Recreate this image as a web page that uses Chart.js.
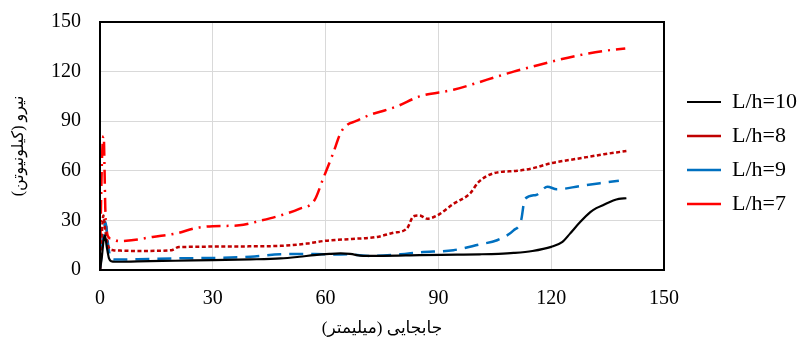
<!DOCTYPE html>
<html>
<head>
<meta charset="utf-8">
<script src="https://cdn.jsdelivr.net/npm/chart.js@4.4.1/dist/chart.umd.min.js"></script>
<style>
  html, body { margin: 0; padding: 0; background: #fff; }
  #wrap { width: 800px; height: 343px; }
</style>
</head>
<body>
<div id="wrap"><canvas id="chart"></canvas></div>
<script>
// displacement (mm) / force (kN) for each slenderness ratio
const seriesNames = ['L/h=10', 'L/h=8', 'L/h=9', 'L/h=7'];

const x10 = [0, 0.5, 0.9, 1.3, 1.8, 2.4, 3, 4, 10, 20, 30, 40, 48, 53, 57, 61, 64, 66.5, 70, 75, 85, 95, 101, 106, 110, 115, 120, 123, 125, 127.7, 130.4, 132, 134, 136.5, 138, 140];
const y10 = [0, 8, 17, 21, 14, 7, 5.3, 5, 5.2, 5.6, 6, 6.4, 7, 8, 9, 9.7, 10, 9.7, 8.6, 8.6, 9, 9.3, 9.5, 9.8, 10.3, 11.5, 14, 17, 22, 29, 35, 37.4, 39.5, 42, 43, 43.4];

const x8 = [0, 0.4, 0.9, 1.3, 1.8, 2.5, 3.5, 6, 10, 15, 19, 21, 25, 30, 40, 48, 55, 60, 67, 73.7, 78, 81.6, 83.4, 85, 87, 89.7, 94, 98.5, 100.6, 104.7, 111, 115, 120, 127.7, 134, 140];
const y8 = [0, 18, 33, 26, 18, 13, 12, 11.7, 11.5, 11.6, 12, 13.9, 14, 14.2, 14.3, 14.6, 16, 17.7, 18.8, 20, 22.5, 25, 32.5, 33, 31, 33, 40, 46.5, 53, 58.5, 60, 61.5, 64.6, 67.6, 70, 72];

const x9 = [0, 0.5, 1, 1.5, 2, 2.6, 3.2, 5, 10, 20, 30, 40, 48, 57, 62, 66, 72, 80, 85, 94, 101, 105.6, 110, 112, 113, 116, 119, 121.5, 127.7, 133, 138];
const y9 = [0, 12, 24, 29, 18, 9, 6.5, 6.3, 6.5, 7, 7.3, 8, 9.5, 9.7, 9.3, 9.5, 8.5, 9.5, 10.7, 12, 15.5, 18, 24, 30, 43, 45.4, 50.4, 48.8, 50.8, 52.5, 54];

const x7 = [0, 0.2, 0.4, 0.6, 0.8, 1.0, 1.2, 1.4, 1.7, 2.2, 3, 5, 7, 10, 14, 20, 26, 30, 37, 43, 48, 53, 57, 59.4, 62, 64, 65.7, 68, 72, 75, 79, 85, 94, 100, 105.6, 110, 115, 120, 127.7, 134, 139.7];
const y7 = [0, 30, 55, 72, 80, 81, 62, 38, 26, 20, 19, 17.5, 17.7, 18.5, 20, 22, 25.6, 26.5, 27, 30, 33, 37, 42, 55.6, 70.6, 83, 87.7, 90, 94, 96, 99, 105, 109, 113, 117, 120, 123, 126, 130, 132.5, 134];

const xTicks = [0, 30, 60, 90, 120, 150];
const yTicks = [0, 30, 60, 90, 120, 150];

const FONT = '"Liberation Serif", "DejaVu Sans", serif';

function pts(xs, ys) {
  return xs.map((x, i) => ({ x: x, y: ys[i] }));
}

function line(label, xs, ys, color, dash, width) {
  return {
    label: label,
    data: pts(xs, ys),
    borderColor: color,
    backgroundColor: color,
    borderWidth: width,
    borderDash: dash,
    pointRadius: 0,
    pointStyle: 'line',
    cubicInterpolationMode: 'monotone',
    fill: false
  };
}

// thick frame round the plot area
const frame = {
  id: 'frame',
  afterDatasetsDraw(chart) {
    const a = chart.chartArea;
    const ctx = chart.ctx;
    ctx.save();
    ctx.strokeStyle = '#000';
    ctx.lineWidth = 2;
    ctx.setLineDash([]);
    ctx.strokeRect(a.left, a.top, a.right - a.left, a.bottom - a.top);
    ctx.restore();
  }
};

new Chart(document.getElementById('chart'), {
  type: 'line',
  data: {
    datasets: [
      line(seriesNames[0], x10, y10, '#000000', [], 2.2),
      line(seriesNames[1], x8, y8, '#C00000', [4, 2.5], 2.5),
      line(seriesNames[2], x9, y9, '#0070C0', [14, 8], 2.5),
      line(seriesNames[3], x7, y7, '#FF0000', [14, 6, 2, 6], 2.5)
    ]
  },
  options: {
    responsive: true,
    maintainAspectRatio: false,
    animation: false,
    layout: { padding: { top: 22, right: 0, bottom: 0, left: 0 } },
    scales: {
      x: {
        type: 'linear',
        min: 0,
        max: 150,
        afterBuildTicks: (s) => { s.ticks = xTicks.map(v => ({ value: v })); },
        afterFit: (s) => { s.height = 73; },
        grid: { color: '#d9d9d9', lineWidth: 1, drawTicks: false },
        border: { display: false },
        ticks: { color: '#000', padding: 17, font: { family: FONT, size: 20 } },
        title: {
          display: true,
          text: 'جابجایی (میلیمتر)',
          color: '#000',
          font: { family: FONT, size: 17 },
          padding: { top: 6 }
        }
      },
      y: {
        min: 0,
        max: 150,
        afterBuildTicks: (s) => { s.ticks = yTicks.map(v => ({ value: v })); },
        afterFit: (s) => {
          s.width = 100;
          // tick padding should not push the plot down
          s.paddingTop = 0;
          s.paddingBottom = 0;
        },
        grid: { color: '#d9d9d9', lineWidth: 1, drawTicks: false },
        border: { display: false },
        ticks: { color: '#000', padding: 19, font: { family: FONT, size: 20 } },
        title: {
          display: true,
          text: 'نیرو (کیلونیوتن)',
          color: '#000',
          font: { family: FONT, size: 16 },
          padding: { top: 9, bottom: 2 }
        }
      },
      gap: {
        position: 'right',
        display: true,
        min: 0,
        max: 1,
        afterFit: (s) => { s.width = 11; s.paddingTop = 0; s.paddingBottom = 0; },
        grid: { display: false },
        border: { display: false },
        ticks: { display: false }
      }
    },
    plugins: {
      legend: {
        position: 'right',
        fullSize: false,
        align: 'start',
        maxWidth: 125,
        title: { display: true, text: '', padding: 16.5, font: { family: FONT, size: 20 } },
        labels: {
          usePointStyle: true,
          pointStyle: 'line',
          pointStyleWidth: 34,
          color: '#000',
          padding: 12,
          font: { family: FONT, size: 22 }
        }
      },
      tooltip: { enabled: false }
    }
  },
  plugins: [frame]
});
</script>
</body>
</html>
